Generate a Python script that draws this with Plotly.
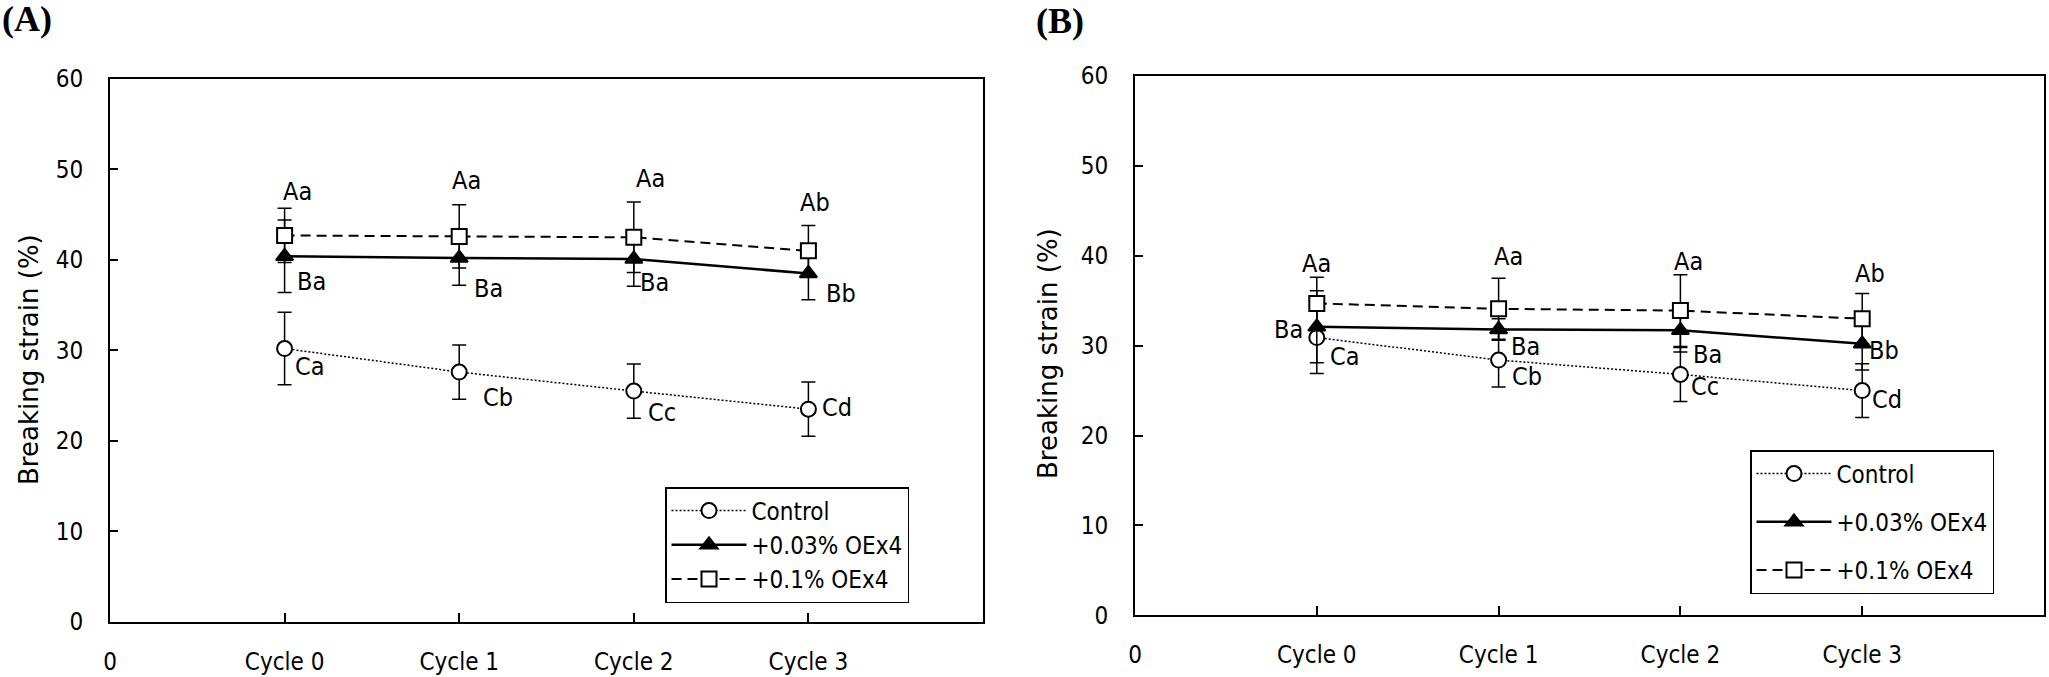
import plotly.graph_objects as go

# ---------------- data ----------------
categories = ["Cycle 0", "Cycle 1", "Cycle 2", "Cycle 3"]
x_pos = [1, 2, 3, 4]
x_tick_vals = [0, 1, 2, 3, 4]
x_tick_text = ["0"] + categories
y_tick_vals = [0, 10, 20, 30, 40, 50, 60]
series_names = ["Control", "+0.03% OEx4", "+0.1% OEx4"]

# Panel A
A_control = [30.2, 27.6, 25.5, 23.5]
A_control_err = [4.0, 3.0, 3.0, 3.0]
A_oex003 = [40.4, 40.2, 40.1, 38.5]
A_oex003_err = [4.0, 3.0, 3.0, 2.9]
A_oex01 = [42.7, 42.6, 42.5, 41.0]
A_oex01_err = [3.0, 3.5, 3.9, 2.8]
A_control_lbl = ["Ca", "Cb", "Cc", "Cd"]
A_oex003_lbl = ["Ba", "Ba", "Ba", "Bb"]
A_oex01_lbl = ["Aa", "Aa", "Aa", "Ab"]

# Panel B
B_control = [30.9, 28.4, 26.8, 25.0]
B_control_err = [4.0, 3.0, 3.0, 3.0]
B_oex003 = [32.1, 31.8, 31.7, 30.2]
B_oex003_err = [4.0, 1.2, 2.4, 2.9]
B_oex01 = [34.7, 34.1, 33.9, 33.0]
B_oex01_err = [2.9, 3.4, 4.0, 2.8]
B_control_lbl = ["Ca", "Cb", "Cc", "Cd"]
B_oex003_lbl = ["Ba", "Ba", "Ba", "Bb"]
B_oex01_lbl = ["Aa", "Aa", "Aa", "Ab"]

# ---------------- styles ----------------
W, H = 2049, 677
NARROW = "Liberation Sans Narrow, DejaVu Sans Condensed, Roboto Condensed, Roboto, sans-serif"
WIDE = "DejaVu Sans, Verdana, sans-serif"
SERIF = "Liberation Serif, Times New Roman, serif"
FS = 24

styles = [
    dict(symbol="circle", fill="white", dash="2px,2px", width=1.5),
    dict(symbol="triangle-up", fill="black", dash="solid", width=2.5),
    dict(symbol="square", fill="white", dash="10px,6px", width=2),
]

# label pixel offsets (dx, dy up) per panel/series/point
A_off = [
    [(25, -18), (39, -25), (28, -21), (29, 2)],
    [(27, -25), (29, -30), (21, -24), (33, -20)],
    [(13, 44), (7, 56), (17, 59), (7, 48)],
]
B_off = [
    [(28, -19), (28, -16), (25, -12), (25, -9)],
    [(-28, -3), (27, -17), (27, -24), (22, -7)],
    [(0, 40), (10, 52), (8, 49), (8, 45)],
]

panels = [
    dict(xa="x", ya="y", legend="legend", tag="A",
         vals=[A_control, A_oex003, A_oex01],
         errs=[A_control_err, A_oex003_err, A_oex01_err],
         lbls=[A_control_lbl, A_oex003_lbl, A_oex01_lbl], off=A_off),
    dict(xa="x2", ya="y2", legend="legend2", tag="B",
         vals=[B_control, B_oex003, B_oex01],
         errs=[B_control_err, B_oex003_err, B_oex01_err],
         lbls=[B_control_lbl, B_oex003_lbl, B_oex01_lbl], off=B_off),
]

fig = go.Figure()
annotations = []
for p in panels:
    for k in range(3):
        st = styles[k]
        fig.add_trace(go.Scatter(
            x=x_pos, y=p["vals"][k], name=series_names[k],
            xaxis=p["xa"], yaxis=p["ya"], legend=p["legend"],
            legendgroup=p["tag"] + str(k),
            mode="lines+markers", cliponaxis=False,
            line=dict(color="black", width=st["width"], dash=st["dash"]),
            marker=dict(symbol=st["symbol"], size=15, color=st["fill"],
                        line=dict(color="black", width=2)),
            error_y=dict(type="data", array=p["errs"][k], visible=True,
                         color="black", thickness=1.5, width=7),
        ))
        for i in range(4):
            dx, dy = p["off"][k][i]
            annotations.append(dict(
                x=x_pos[i], y=p["vals"][k][i], xref=p["xa"], yref=p["ya"],
                text=p["lbls"][k][i], showarrow=False, xshift=dx, yshift=dy,
                xanchor="center", yanchor="middle",
                font=dict(family=NARROW, size=FS + 1, color="black")))

def px_x(v):
    return v / W

def px_y(v):
    return 1 - v / H

axis_common = dict(showline=True, linecolor="black", linewidth=2, mirror=True,
                   showgrid=False, zeroline=False, ticks="inside",
                   tickcolor="black", tickwidth=1.5, automargin=False,
                   tickfont=dict(family=NARROW, size=FS, color="black"))

x_common = dict(axis_common, range=[0, 5], tickmode="array",
                tickvals=x_tick_vals, ticktext=x_tick_text, ticklen=9,
                ticklabelstandoff=17)
y_common = dict(axis_common, range=[0, 60], tickmode="array",
                tickvals=y_tick_vals, ticklen=8, ticklabelstandoff=20)

legend_common = dict(bordercolor="black", borderwidth=1.5, bgcolor="white",
                     font=dict(family=NARROW, size=FS, color="black"),
                     itemwidth=75, traceorder="grouped", xanchor="left",
                     yanchor="top")

annotations += [
    dict(x=px_x(29), y=px_y(360), xref="paper", yref="paper",
         xanchor="center", yanchor="middle",
         text="Breaking strain (%)", textangle=-90, showarrow=False,
         font=dict(family=WIDE, size=26, color="black")),
    dict(x=px_x(1048), y=px_y(354), xref="paper", yref="paper",
         xanchor="center", yanchor="middle",
         text="Breaking strain (%)", textangle=-90, showarrow=False,
         font=dict(family=WIDE, size=26, color="black")),
    dict(x=px_x(0), y=px_y(19), xref="paper", yref="paper",
         xanchor="left", yanchor="middle",
         text="<b>(A)</b>", showarrow=False,
         font=dict(family=SERIF, size=36, color="black")),
    dict(x=px_x(1034), y=px_y(21), xref="paper", yref="paper",
         xanchor="left", yanchor="middle",
         text="<b>(B)</b>", showarrow=False,
         font=dict(family=SERIF, size=36, color="black")),
]

fig.update_layout(
    template="none",
    width=W, height=H, margin=dict(l=0, r=0, t=0, b=0, autoexpand=False),
    paper_bgcolor="white", plot_bgcolor="white",
    xaxis=dict(x_common, domain=[px_x(110), px_x(983)], anchor="y"),
    yaxis=dict(y_common, domain=[px_y(621.7), px_y(79)], anchor="x"),
    xaxis2=dict(x_common, domain=[px_x(1135), px_x(2044)], anchor="y2"),
    yaxis2=dict(y_common, domain=[px_y(615.3), px_y(76)], anchor="x2"),
    legend=dict(legend_common, x=px_x(665), y=px_y(487), tracegroupgap=0),
    legend2=dict(legend_common, x=px_x(1750), y=px_y(450), tracegroupgap=14),
    annotations=annotations,
    showlegend=True,
)

fig.write_html("out.html",
               config={"displayModeBar": False},
               post_script="document.body.style.margin='0';")
